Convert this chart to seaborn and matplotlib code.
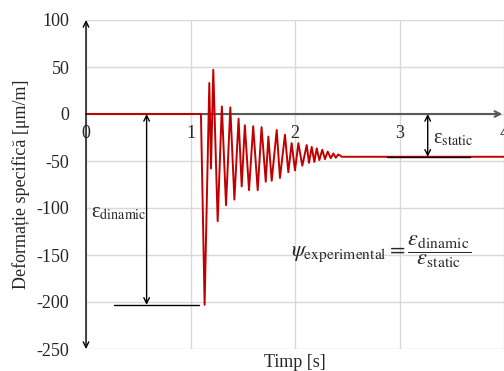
import numpy as np
import pandas as pd
import matplotlib.pyplot as plt
import seaborn as sns

# valori
time_s = [0.0, 1.10, 1.135, 1.18, 1.196, 1.218, 1.26, 1.30, 1.34, 1.381,
          1.42, 1.46, 1.49, 1.52, 1.56, 1.60, 1.643, 1.68, 1.72, 1.745,
          1.777, 1.825, 1.856, 1.904, 1.936, 1.968, 2.0, 2.032, 2.07, 2.112,
          2.134, 2.16, 2.185, 2.208, 2.233, 2.261, 2.287, 2.313, 2.342, 2.367,
          2.39, 2.414, 2.45, 4.1]
strain = [0, 0, -203, 33, -58, 47, -114, 8, -97, 7,
          -91, -5, -77, -12, -81, -13, -81, -14, -72, -24,
          -71, -17, -68, -22, -62, -31, -60, -31, -55, -33,
          -52, -35, -51, -36.5, -49, -38, -48, -40, -47, -42,
          -46.5, -43, -45.5, -45.5]
x_ticks = [0, 1, 2, 3, 4]
y_ticks = [100, 50, 0, -50, -100, -150, -200, -250]
eps_dinamic = -203
eps_static = -45.5

sns.set_style("white")
plt.rcParams['font.family'] = ['Liberation Serif', 'DejaVu Serif']
plt.rcParams['mathtext.fontset'] = 'stix'
plt.rcParams['axes.unicode_minus'] = False

fig = plt.figure(figsize=(5.04, 3.71), dpi=100)
ax = fig.add_axes([86/504, 22/371, 418/504, 329/371])

df = pd.DataFrame({"Timp": time_s, "Deformatie": strain})
sns.lineplot(data=df, x="Timp", y="Deformatie", color="#C00000", linewidth=1.4, ax=ax, zorder=4)

ax.set_xlim(0, 4)
ax.set_ylim(-250, 100)
ax.set_xticks(x_ticks)
ax.set_yticks(y_ticks)
ax.grid(True, color="#D9D9D9", linewidth=1)
for s in ['top', 'right', 'left', 'bottom']:
    ax.spines[s].set_visible(False)
ax.spines['bottom'].set_position(('data', 0))  # etichetele x pe linia y=0
ax.tick_params(axis='x', length=0, pad=8, labelsize=13)
ax.tick_params(axis='y', length=0, pad=12, labelsize=13)

ax.set_xlabel("Timp [s]", fontsize=13)
ax.xaxis.set_label_coords(0.5, -0.015)
ax.set_ylabel("Deformație specifică [μm/m]", fontsize=13)
ax.yaxis.set_label_coords(-0.135, 0.5)

# axe cu sageti
ax.annotate('', xy=(0, 100), xytext=(0, -250),
            arrowprops=dict(arrowstyle='<->', color='black', lw=1, shrinkA=0, shrinkB=0),
            annotation_clip=False, zorder=5)
ax.annotate('', xy=(3.985, 0), xytext=(0, 0),
            arrowprops=dict(arrowstyle='->', color='#595959', lw=1.5, shrinkA=0, shrinkB=0),
            annotation_clip=False, zorder=3)

# epsilon dinamic
ax.plot([0.27, 1.08], [eps_dinamic, eps_dinamic], color='black', lw=1)
ax.annotate('', xy=(0.58, eps_dinamic), xytext=(0.58, 0),
            arrowprops=dict(arrowstyle='<->', color='black', lw=1, shrinkA=0, shrinkB=0))
ax.text(0.05, -110, "ε$_{\\mathrm{dinamic}}$", fontsize=14.5, ha='left', va='baseline')

# epsilon static
ax.plot([2.88, 3.67], [eps_static, eps_static], color='black', lw=1, zorder=5)
ax.annotate('', xy=(3.27, eps_static), xytext=(3.27, 0),
            arrowprops=dict(arrowstyle='<->', color='black', lw=1, shrinkA=0, shrinkB=0))
ax.text(3.32, -31, "ε$_{\\mathrm{static}}$", fontsize=14.5, ha='left', va='baseline')

formula = (r'$\psi_{\mathrm{experimental}} = '
           r'\dfrac{\varepsilon_{\mathrm{dinamic}}}{\varepsilon_{\mathrm{static}}}$')
ax.text(1.96, -146, formula, fontsize=16, ha='left', va='center')

fig.savefig("out.png", dpi=100)
